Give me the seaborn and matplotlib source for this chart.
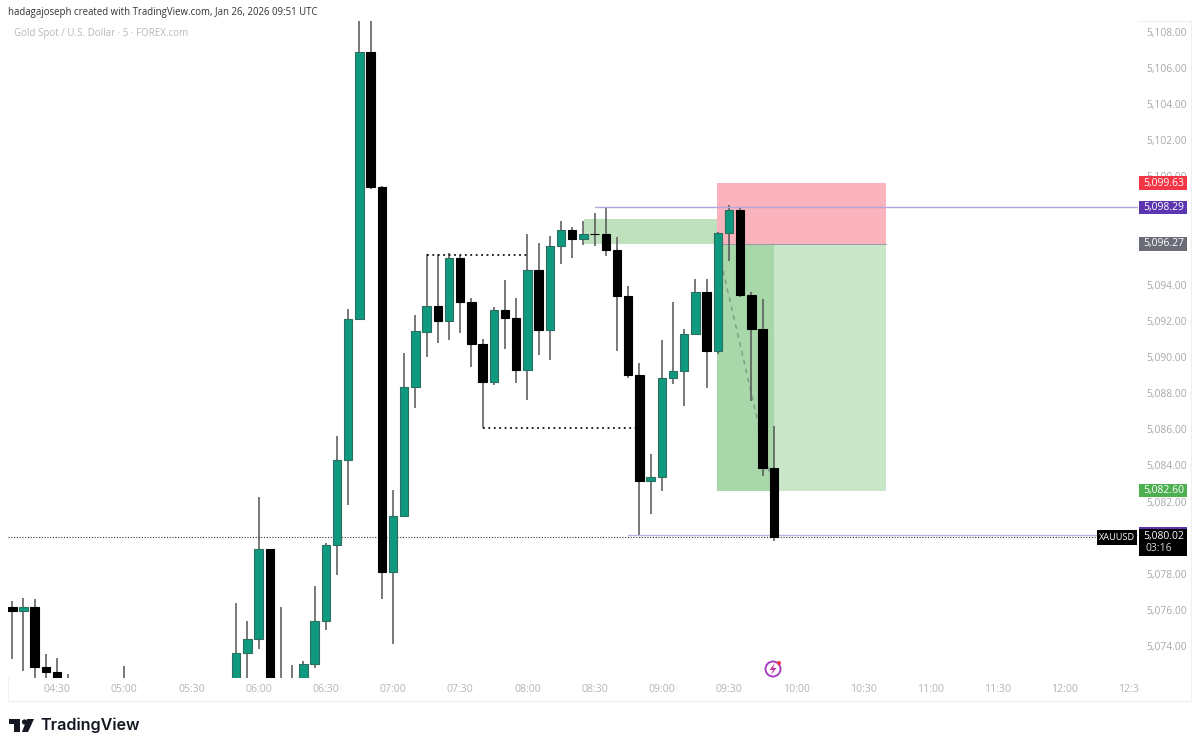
# plot.py
# Gold 5 minute candles with the short position drawn on top

import matplotlib
matplotlib.use('Agg')
import matplotlib.pyplot as plt
from matplotlib.patches import Rectangle, Polygon, Circle
import pandas as pd
import seaborn as sns

times = ['04:10', '04:15', '04:20', '04:25', '04:30', '04:35', '05:00', '05:50', '05:55',
         '06:00', '06:05', '06:10', '06:15', '06:20', '06:25', '06:30', '06:35', '06:40',
         '06:45', '06:50', '06:55', '07:00', '07:05', '07:10', '07:15', '07:20', '07:25',
         '07:30', '07:35', '07:40', '07:45', '07:50', '07:55', '08:00', '08:05', '08:10',
         '08:15', '08:20', '08:25', '08:30', '08:35', '08:40', '08:45', '08:50', '08:55',
         '09:00', '09:05', '09:10', '09:15', '09:20', '09:25', '09:30', '09:35', '09:40',
         '09:45', '09:50']
opens = [5076.15, 5075.96, 5076.15, 5072.86, 5072.55, 5071.80, 5072.00, 5071.80, 5073.63,
         5074.39, 5079.36, 5071.90, 5071.60, 5071.90, 5072.99, 5075.39, 5079.61, 5084.30,
         5092.11, 5106.89, 5099.43, 5078.08, 5081.22, 5088.33, 5091.41, 5092.83, 5092.00,
         5095.47, 5093.03, 5090.72, 5088.62, 5092.61, 5092.16, 5089.27, 5094.81, 5091.50,
         5096.15, 5097.04, 5096.54, 5096.84, 5096.80, 5095.95, 5093.38, 5088.99, 5083.14,
         5083.38, 5088.83, 5089.23, 5091.28, 5093.62, 5090.34, 5096.85, 5098.13, 5093.44,
         5091.54, 5083.88]
closes = [5075.96, 5076.15, 5072.86, 5072.55, 5071.80, 5071.60, 5071.90, 5073.63, 5074.39,
          5079.36, 5071.80, 5071.60, 5071.90, 5073.01, 5075.39, 5079.61, 5084.30, 5092.11,
          5106.89, 5099.40, 5078.08, 5081.22, 5088.36, 5091.44, 5092.83, 5092.00, 5095.47,
          5093.03, 5090.72, 5088.62, 5092.61, 5092.16, 5089.27, 5094.81, 5091.50, 5096.15,
          5097.04, 5096.54, 5096.82, 5096.80, 5095.95, 5093.38, 5088.99, 5083.14, 5083.38,
          5088.83, 5089.23, 5091.28, 5093.62, 5090.34, 5096.85, 5098.13, 5093.44, 5091.54,
          5083.88, 5080.02]
highs = [5076.51, 5076.66, 5076.61, 5073.54, 5073.34, 5072.44, 5072.88, 5076.40, 5075.40,
         5082.25, 5079.36, 5076.15, 5072.97, 5073.19, 5077.33, 5079.71, 5085.63, 5092.65,
         5110.00, 5110.00, 5099.45, 5082.64, 5090.23, 5092.33, 5095.71, 5095.71, 5095.76,
         5095.65, 5093.27, 5090.98, 5092.79, 5094.27, 5093.29, 5096.80, 5096.30, 5096.70,
         5097.55, 5097.22, 5097.55, 5097.96, 5098.29, 5096.67, 5093.95, 5089.69, 5084.62,
         5090.95, 5093.07, 5091.54, 5094.31, 5094.31, 5096.94, 5098.42, 5098.29, 5093.59,
         5093.22, 5086.18]
lows = [5073.30, 5072.62, 5071.50, 5071.50, 5071.00, 5071.00, 5071.50, 5071.00, 5071.50,
        5073.84, 5071.50, 5071.00, 5071.00, 5071.30, 5072.77, 5074.89, 5077.93, 5081.81,
        5092.10, 5099.29, 5076.62, 5074.11, 5081.15, 5087.20, 5090.02, 5090.78, 5090.95,
        5091.35, 5089.43, 5086.06, 5088.44, 5090.46, 5088.55, 5087.62, 5090.13, 5089.84,
        5095.15, 5095.47, 5096.21, 5096.17, 5095.60, 5090.34, 5088.83, 5080.11, 5081.30,
        5082.59, 5088.49, 5087.31, 5091.28, 5088.30, 5090.15, 5095.32, 5093.30, 5087.57,
        5083.43, 5079.83]

time_ticks = ['04:30', '05:00', '05:30', '06:00', '06:30', '07:00', '07:30', '08:00',
              '08:30', '09:00', '09:30', '10:00', '10:30', '11:00', '11:30', '12:00']
price_ticks = list(range(5074, 5110, 2))
# these sit fully behind the flags on the price scale
hidden_prices = [5080, 5096, 5098]

entry_price = 5096.27
stop_price = 5099.63
target_price = 5082.60
last_price = 5080.02
swing_high = 5098.29
liquidity_low = 5080.15
zone_top = 5097.66
zone_bottom = 5096.24
dotted_top = 5095.65
dotted_bottom = 5086.06


def to_minutes(label):
    h, m = label.split(':')
    return int(h) * 60 + int(m)


df = pd.DataFrame({'time': times, 'open': opens, 'close': closes, 'high': highs, 'low': lows})
df['x'] = df['time'].map(to_minutes)
df['top'] = df[['open', 'close']].max(axis=1)
df['bottom'] = df[['open', 'close']].min(axis=1)
df['size'] = df['top'] - df['bottom']
rising = df[df['close'] > df['open']]
falling = df[df['close'] <= df['open']]

sns.set_theme(style='white')
plt.rcParams['font.family'] = ['Open Sans', 'DejaVu Sans']

fig = plt.figure(figsize=(12, 7.5), dpi=100)
ax = fig.add_axes([8 / 1200, 72 / 750, 1130 / 1200, 657 / 750])

# Zones go under the candles
zone_start = to_minutes('08:25') + 0.3
pos_start = to_minutes('09:25') - 0.4
pos_now = to_minutes('09:50')
pos_end = to_minutes('10:40')
ax.fill_between([zone_start, pos_start], zone_bottom, zone_top, color='#bfe1bd', lw=0, zorder=1)
ax.fill_between([pos_start, pos_end], entry_price, stop_price, color='#fbb3bd', lw=0, zorder=1)
ax.fill_between([pos_start, pos_end], target_price, entry_price, color='#c9e6c9', lw=0, zorder=1)
ax.fill_between([pos_start, pos_now], target_price, entry_price, color='#a8d8a9', lw=0, zorder=1.1)
ax.plot([pos_start, pos_end], [entry_price, entry_price], color='#9a9aa2', lw=0.7, zorder=1.2)
ax.plot([pos_start, pos_now], [entry_price, target_price], color='#7f9f88', lw=1.1,
        ls=(0, (3, 3)), zorder=1.3)

# Wicks first, then the bodies from seaborn
ax.vlines(df['x'], df['low'], df['high'], color='#555555', lw=1.1, zorder=2)
sns.barplot(data=rising, x='x', y='size', bottom=rising['bottom'].values, native_scale=True,
            width=0.76, color='#0f9a80', saturation=1, edgecolor='#2c6f60', linewidth=0.8,
            errorbar=None, zorder=3, ax=ax)
sns.barplot(data=falling, x='x', y='size', bottom=falling['bottom'].values, native_scale=True,
            width=0.76, color='#000000', saturation=1, edgecolor='#000000', linewidth=0.8,
            errorbar=None, zorder=3, ax=ax)

# Drawn levels
ax.plot([to_minutes('08:30'), 760], [swing_high, swing_high], color='#b7a6de', lw=1, zorder=2.5)
ax.plot([525, 760], [liquidity_low, liquidity_low], color='#bdb4e2', lw=1, zorder=2.5)
ax.plot([248, to_minutes('12:30') - 16], [last_price, last_price], color='#333333', lw=0.8,
        ls=(0, (1, 1.5)), zorder=2.6)
ax.plot([to_minutes('07:15'), to_minutes('08:00')], [dotted_top, dotted_top], color='#111111',
        lw=1.3, ls=(0, (1, 2)), zorder=2.6)
ax.plot([to_minutes('07:40'), to_minutes('08:49')], [dotted_bottom, dotted_bottom], color='#111111',
        lw=1.3, ls=(0, (1, 2)), zorder=2.6)

ax.set_xlim(248.1, 752.6)
ax.set_ylim(5072.23, 5108.61)
ax.set_xlabel('')
ax.set_ylabel('')
ax.set_xticks([to_minutes(t) for t in time_ticks])
ax.set_xticklabels(time_ticks, fontsize=7.6, color='#b4b4b4')
ax.set_yticks(price_ticks)
ax.set_yticklabels(['' if p in hidden_prices else f'{p:,.2f}' for p in price_ticks],
                   fontsize=7.4, color='#a8a8a8')
ax.yaxis.tick_right()
ax.tick_params(axis='x', length=0, pad=4)
ax.tick_params(axis='y', length=0, pad=6)
ax.grid(False)
sns.despine(ax=ax, left=True, right=True, top=True, bottom=True)
ax.annotate('12:3', xy=(750, 0), xycoords=('data', 'axes fraction'), xytext=(-10, -4),
            textcoords='offset points', fontsize=7.6, color='#b4b4b4', ha='left', va='top')


def price_flag(price, label, color, height=13.5):
    # Flag on the price scale, width and height are in pixels
    y_ax = ax.transData.transform((0, price))[1]
    box = Rectangle((1139, y_ax - height / 2), 48, height, transform=None, fc=color, ec='none',
                    zorder=6, clip_on=False)
    fig.add_artist(box)
    fig.text(1164 / 1200, y_ax / 750, label, color='white', fontsize=7.5, ha='center',
             va='center', zorder=7)


price_flag(stop_price, '5,099.63', '#f23645')
price_flag(swing_high, '5,098.29', '#5e35b1')
price_flag(entry_price, '5,096.27', '#6a6d78')
price_flag(target_price, '5,082.60', '#4caf50')

# Last price block with the countdown under it
y_last = ax.transData.transform((0, last_price))[1]
fig.add_artist(Rectangle((1139, y_last - 18.5), 48, 28, transform=None, fc='black', ec='none', zorder=6))
fig.add_artist(Rectangle((1139, y_last + 8.5), 48, 1.5, transform=None, fc='#5e35b1', ec='none', zorder=6.5))
fig.text(1164 / 1200, (y_last + 0.5) / 750, '5,080.02', color='white', fontsize=7.5, ha='center',
         va='center', zorder=7)
fig.text(1145 / 1200, (y_last - 11) / 750, '03:16', color='#d8d8d8', fontsize=7.5, ha='left',
         va='center', zorder=7)
fig.add_artist(Rectangle((1097, y_last - 7.5), 40, 15, transform=None, fc='black', ec='none', zorder=6))
fig.text(1117 / 1200, y_last / 750, 'XAUUSD', color='white', fontsize=6.6, ha='center',
         va='center', zorder=7)

# Frame around the chart and the price scale
fig.add_artist(Rectangle((8, 49), 1183, 680, transform=None, fill=False, ec='#f0f0f0', lw=1, zorder=0))

fig.text(8 / 1200, 738 / 750, 'hadagajoseph created with TradingView.com, Jan 26, 2026 09:51 UTC',
         fontsize=6.95, color='#333333', ha='left', va='center')
fig.text(14 / 1200, 716.5 / 750, 'Gold Spot / U.S. Dollar · 5 · FOREX.com', fontsize=7.05,
         color='#b8b8b8', ha='left', va='center')

# Alert icon
fig.add_artist(Circle((773, 81), 7.5, transform=None, fill=False, ec='#a63fc0', lw=1.4, zorder=6))
fig.add_artist(Polygon([(775, 87), (769.5, 80), (773, 80), (771, 75), (776.5, 82), (773, 82)],
                       closed=True, transform=None, fc='#c2399f', ec='none', zorder=6))
fig.add_artist(Circle((779, 87), 2, transform=None, fc='#f23645', ec='none', zorder=7))

# TradingView logo
logo_bar = [(9, 31), (20, 31), (20, 18), (14, 18), (14, 26), (9, 26)]
logo_slash = [(27, 31), (34, 31), (28, 18), (22, 18)]
fig.add_artist(Polygon(logo_bar, closed=True, transform=None, fc='#131722', ec='none'))
fig.add_artist(Polygon(logo_slash, closed=True, transform=None, fc='#131722', ec='none'))
fig.add_artist(Circle((24.5, 28), 2.6, transform=None, fc='#131722', ec='none'))
fig.text(40 / 1200, 24.5 / 750, 'TradingView', fontsize=11.6, fontweight='semibold', family='Inter',
         color='#131722', ha='left', va='center')

fig.savefig('out.png', dpi=100)
plt.close(fig)
